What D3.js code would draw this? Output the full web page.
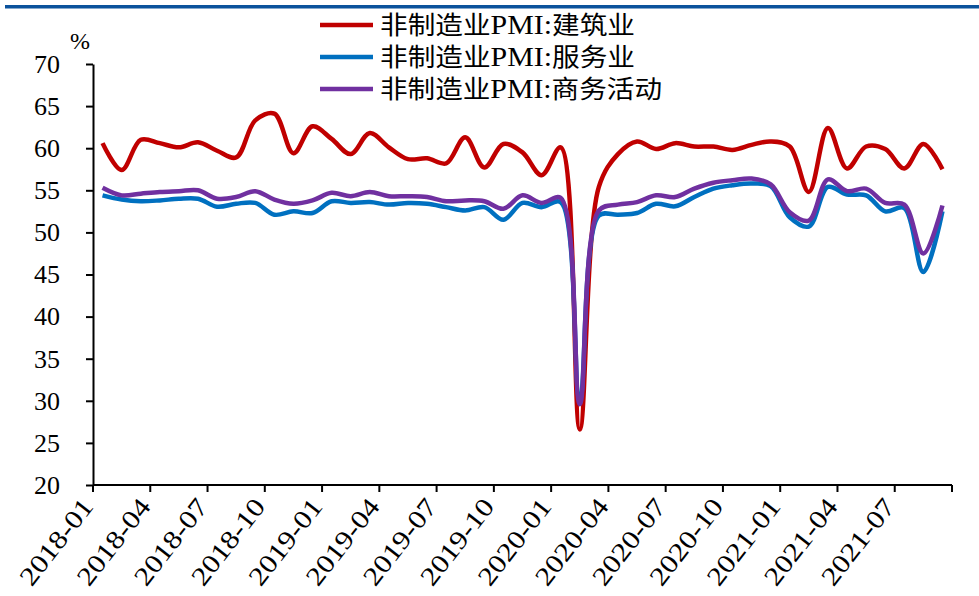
<!DOCTYPE html>
<html>
<head>
<meta charset="utf-8">
<script src="https://cdn.jsdelivr.net/npm/d3@7/dist/d3.min.js"></script>
<style>
  html, body { margin: 0; padding: 0; background: #fff; }
  svg { display: block; }
  text { font-family: "Liberation Serif", "Times New Roman", "Noto Sans CJK SC", serif; fill: #000; }
</style>
</head>
<body>
<svg id="chart" width="979" height="596"></svg>
<script>
// ---- data ----
const months = [];
for (let yr = 2018; yr <= 2021; yr++) {
  for (let m = 1; m <= 12; m++) {
    if (yr === 2021 && m > 9) break;
    months.push(yr + "-" + String(m).padStart(2, "0"));
  }
}
const seriesNames = ["非制造业PMI:建筑业", "非制造业PMI:服务业", "非制造业PMI:商务活动"];
const construction = [60.6, 57.4, 61.0, 60.6, 60.1, 60.7, 59.7, 58.9, 63.3, 64.1, 59.4, 62.6,
  61.1, 59.3, 61.8, 60.1, 58.7, 58.8, 58.2, 61.3, 57.7, 60.5, 59.5, 56.8,
  60.1, 26.6, 55.4, 59.3, 60.8, 59.9, 60.6, 60.2, 60.2, 59.8, 60.4, 60.8,
  60.2, 54.8, 62.4, 57.6, 60.2, 59.9, 57.6, 60.5, 57.5];
const services = [54.4, 53.9, 53.7, 53.8, 54.0, 54.0, 53.05, 53.4, 53.5, 52.1, 52.5, 52.3,
  53.7, 53.5, 53.6, 53.3, 53.5, 53.4, 53.0, 52.6, 53.0, 51.5, 53.5, 53.0,
  53.6, 30.1, 52.0, 52.1, 52.3, 53.4, 53.1, 54.2, 55.2, 55.6, 55.8, 55.5,
  51.8, 50.7, 55.4, 54.5, 54.4, 52.5, 52.9, 45.3, 52.5];
const business = [55.3, 54.4, 54.6, 54.8, 54.9, 55.0, 54.0, 54.2, 54.9, 53.9, 53.4, 53.8,
  54.7, 54.3, 54.8, 54.3, 54.3, 54.2, 53.7, 53.8, 53.7, 52.8, 54.4, 53.5,
  54.1, 29.6, 52.6, 53.3, 53.6, 54.4, 54.2, 55.2, 55.9, 56.2, 56.4, 55.7,
  52.4, 51.4, 56.3, 54.9, 55.2, 53.5, 53.3, 47.5, 53.2];
const colors = ["#C00000", "#0070C0", "#7030A0"];
const yTicks = [20, 25, 30, 35, 40, 45, 50, 55, 60, 65, 70];
const xTickLabels = ["2018-01","2018-04","2018-07","2018-10","2019-01","2019-04","2019-07","2019-10",
  "2020-01","2020-04","2020-07","2020-10","2021-01","2021-04","2021-07"];

// ---- layout ----
const svg = d3.select("#chart");
svg.append("rect").attr("width", 979).attr("height", 596).attr("fill", "#fff");
svg.append("rect").attr("x", 5).attr("y", 5).attr("width", 974).attr("height", 3.5).attr("fill", "#0B529C");

const plotLeft = 93, plotRight = 952, plotTop = 64, plotBottom = 485;
const x = d3.scaleBand().domain(months).range([plotLeft, plotRight]).padding(0);
const bw = x.bandwidth();
const y = d3.scaleLinear().domain([20, 70]).range([plotBottom, plotTop]);

// y axis
const yAxis = d3.axisLeft(y).tickValues(yTicks).tickSize(7).tickSizeOuter(0).tickPadding(26);
const gy = svg.append("g").attr("transform", `translate(${plotLeft},0)`).call(yAxis);
gy.select(".domain").attr("stroke", "#000").attr("stroke-width", 2);
gy.selectAll(".tick line").attr("stroke", "#000").attr("stroke-width", 2);
gy.selectAll(".tick text").attr("font-size", 26).attr("font-family", "Liberation Serif").attr("fill", "#000");

svg.append("text").attr("x", 80).attr("y", 49).attr("text-anchor", "middle")
  .attr("font-size", 24).text("%");

// x axis
const gx = svg.append("g");
gx.append("line").attr("x1", plotLeft).attr("x2", plotRight).attr("y1", plotBottom).attr("y2", plotBottom)
  .attr("stroke", "#000").attr("stroke-width", 2);
const tickPos = months.filter((m, i) => i % 3 === 0).map(m => x(m)).concat([plotRight]);
gx.selectAll("line.tk").data(tickPos).join("line").attr("class", "tk")
  .attr("x1", d => d).attr("x2", d => d).attr("y1", plotBottom).attr("y2", plotBottom + 7)
  .attr("stroke", "#000").attr("stroke-width", 2);
gx.selectAll("text.lbl").data(xTickLabels).join("text").attr("class", "lbl")
  .attr("text-anchor", "end")
  .attr("font-size", 26)
  .attr("textLength", 102).attr("lengthAdjust", "spacingAndGlyphs")
  .attr("transform", d => `translate(${x(d) + bw / 2 - 8},${plotBottom + 22}) rotate(-52)`)
  .text(d => d);

// lines
const allSeries = [construction, services, business];
const line = d3.line()
  .x((d, i) => x(months[i]) + bw / 2)
  .y(d => y(d))
  .curve(d3.curveCatmullRom.alpha(0.5));
svg.selectAll("path.series").data(allSeries).join("path").attr("class", "series")
  .attr("d", d => line(d))
  .attr("fill", "none")
  .attr("stroke", (d, i) => colors[i])
  .attr("stroke-width", 4.5)
  .attr("stroke-linejoin", "round");

// legend
const legendY = [25, 57, 89];
const legendW = [255, 255, 282];
const lg = svg.append("g");
seriesNames.forEach((name, i) => {
  lg.append("line").attr("x1", 320).attr("x2", 373).attr("y1", legendY[i]).attr("y2", legendY[i])
    .attr("stroke", colors[i]).attr("stroke-width", 4.5);
  const parts = name.split("PMI:");
  const t = lg.append("text").attr("x", 380).attr("y", legendY[i] + 9)
    .attr("textLength", legendW[i]).attr("lengthAdjust", "spacingAndGlyphs");
  t.append("tspan").attr("font-size", 25).attr("font-family", "Noto Sans CJK SC").text(parts[0]);
  t.append("tspan").attr("font-size", 27).attr("font-family", "Liberation Serif").text("PMI:");
  t.append("tspan").attr("font-size", 25).attr("font-family", "Noto Sans CJK SC").text(parts[1]);
});
</script>
</body>
</html>
